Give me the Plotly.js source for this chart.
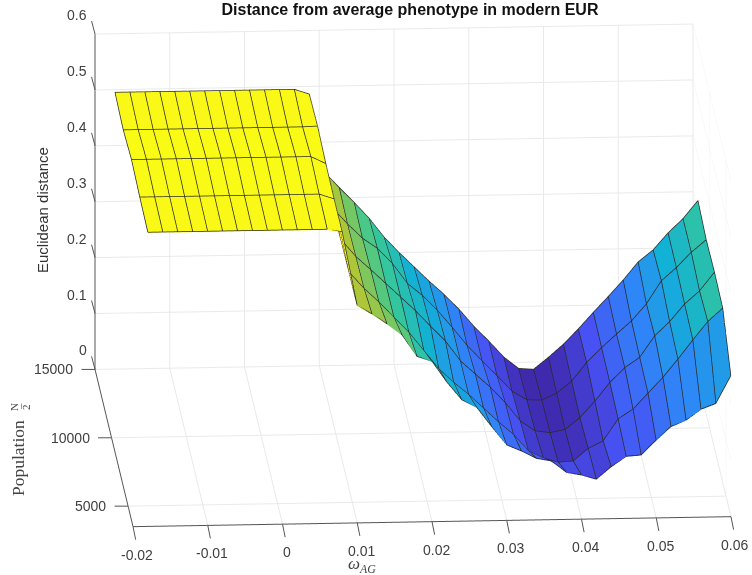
<!DOCTYPE html>
<html><head><meta charset="utf-8"><script src="https://cdn.plot.ly/plotly-3.0.1.min.js"></script>
<style>html,body{margin:0;padding:0;background:#fff}#p{width:752px;height:575px}</style></head>
<body><div id="p"></div>
<script>
const omega=[-0.018,-0.016,-0.014,-0.012,-0.01,-0.008,-0.006,-0.004,-0.002,0,0.002,0.004,0.006,0.008,0.01,0.012,0.014,0.016,0.018,0.02,0.022,0.024,0.026,0.028,0.03,0.032,0.034,0.036,0.038,0.04,0.042,0.044,0.046,0.048,0.05,0.052,0.054,0.056,0.058,0.06];
const population=[3500,6000,8500,11000,13500];
const distAt3500=[.525,.525,.525,.525,.525,.525,.525,.525,.525,.525,.525,.525,.525,.520,.388,.372,.354,.334,.295,.286,.248,.216,.202,.167,.134,.1225,.109,.104,.083,.078,.070,.092,.110,.112,.138,.162,.173,.192,.202,.251];
const distAt6000=[.528,.528,.528,.528,.528,.528,.528,.528,.528,.528,.528,.528,.528,.519,.3875,.358,.333,.3055,.278,.245,.212,.187,.165,.140,.115,.092,.062,.049,.041,.043,.065,.078,.117,.134,.162,.190,.222,.256,.2885,.312];
const distAt8500=[.534,.534,.534,.534,.534,.534,.534,.534,.534,.534,.534,.534,.534,.521,.385,.354,.330,.305,.280,.255,.227,.200,.164,.140,.116,.088,.055,.0365,.033,.038,.059,.088,.121,.147,.165,.203,.228,.259,.282,.315];
const distAt11000=[.526,.526,.526,.526,.526,.526,.526,.526,.526,.526,.526,.526,.526,.527,.380,.351,.325,.3065,.279,.243,.221,.194,.163,.130,.102,.075,.047,.031,.030,.042,.063,.096,.122,.146,.169,.199,.240,.263,.290,.312];
const distAt13500=[.532,.532,.532,.532,.532,.532,.532,.532,.532,.532,.532,.532,.532,.523,.383,.355,.328,.299,.265,.237,.211,.185,.161,.134,.103,.076,.047,.026,.024,.045,.068,.095,.124,.152,.181,.213,.234,.264,.289,.321];
const xTicks=[-0.02,-0.01,0,0.01,0.02,0.03,0.04,0.05,0.06];
const yTicks=[5000,10000,15000];
const zTicks=[0,0.1,0.2,0.3,0.4,0.5,0.6];
const parula=[[0,'rgb(62,38,168)'],[1/7,'rgb(72,82,244)'],[2/7,'rgb(46,135,247)'],[3/7,'rgb(18,177,214)'],[4/7,'rgb(55,200,151)'],[5/7,'rgb(171,199,57)'],[6/7,'rgb(254,195,56)'],[1,'rgb(249,251,21)']];

const Z=[distAt3500,distAt6000,distAt8500,distAt11000,distAt13500];
const eps=1e-7;
const fx=[],cols=[];
omega.forEach((v,i)=>{ if(i>0){fx.push(v-eps);cols.push(i);} if(i<omega.length-1){fx.push(v);cols.push(i);} });
const fy=[],rows=[];
population.forEach((v,j)=>{ if(j>0){fy.push(v-0.01);rows.push(j);} if(j<population.length-1){fy.push(v);rows.push(j);} });
const fz=rows.map(j=>cols.map(i=>Z[j][i]));
const fc=rows.map((j,b)=>cols.map((i,a)=>Z[Math.floor(b/2)][Math.floor(a/2)]));

// Mesh lines, nudged a hair toward the viewer so that they sit on top of the facets.
const lx=[],ly=[],lz=[];
const put=(i,j)=>{lx.push(omega[i]-2e-5);ly.push(Math.max(population[j]-50,3500));lz.push(Z[j][i]+0.0013);};
const gap=()=>{lx.push(null);ly.push(null);lz.push(null);};
population.forEach((_,j)=>{omega.forEach((_,i)=>put(i,j));gap();});
omega.forEach((_,i)=>{population.forEach((_,j)=>put(i,j));gap();});

const axBase={showbackground:false,showspikes:false,zeroline:false,showgrid:true,gridcolor:'#e9e9e9',gridwidth:2,
  showline:true,linecolor:'#555',linewidth:2,ticks:'',showticklabels:false,tickmode:'array',title:{text:''}};
const tickFont={family:'Liberation Sans, Arial, sans-serif',size:14,color:'#404040'};
const sa=[];
const mark=(p,ax,ay)=>sa.push(Object.assign({text:' ',showarrow:true,arrowhead:0,arrowwidth:1,arrowcolor:'#555',standoff:0,ax:ax,ay:ay,font:{size:1}},p));
xTicks.forEach(v=>{sa.push({x:v,y:3500,z:0,text:String(v),showarrow:false,font:tickFont,xshift:4,yshift:-28});mark({x:v,y:3500,z:0},3,15);});
yTicks.forEach(v=>{sa.push({x:-0.02,y:v,z:0,text:String(v),showarrow:false,font:tickFont,xanchor:'right',xshift:-20});mark({x:-0.02,y:v,z:0},-15,0);});
zTicks.forEach(v=>{sa.push({x:-0.02,y:15000,z:v,text:String(v),showarrow:false,font:tickFont,xanchor:'right',xshift:-6,yshift:19});mark({x:-0.02,y:15000,z:v},-4,-15);});

const cen=(a,b)=>({xanchor:'center',yanchor:'middle',xref:'paper',yref:'paper',x:a/752,y:1-b/575,showarrow:false});
const layout={width:752,height:575,margin:{l:0,r:0,t:0,b:0},paper_bgcolor:'#fff',showlegend:false,
  scene:{domain:{x:[0,1],y:[0,1]},aspectmode:'manual',aspectratio:{x:2.084,y:2.084,z:1.209},
    camera:{projection:{type:'orthographic'},center:{x:-0.129,y:0,z:-0.0415},eye:{x:-0.3126,y:-2.889,z:0.7475},up:{x:0,y:0,z:1}},
    xaxis:Object.assign({},axBase,{range:[-0.02,0.06],tickvals:xTicks}),
    yaxis:Object.assign({},axBase,{range:[3500,15000],tickvals:yTicks}),
    zaxis:Object.assign({},axBase,{range:[0,0.6],tickvals:zTicks}),
    annotations:sa},
  title:{text:'<b>Distance from average phenotype in modern EUR</b>',font:{family:'Liberation Sans, Arial, sans-serif',size:16,color:'#111'},x:410/752,xanchor:'center',y:1-9/575,yanchor:'middle'},
  annotations:[
    Object.assign(cen(42,210),{text:'Euclidean distance',textangle:-90,font:{family:'Liberation Sans, Arial, sans-serif',size:15,color:'#333'}}),
    Object.assign(cen(18,458),{text:'Population',textangle:-90,font:{family:'Liberation Serif, serif',size:17.5,color:'#444'}}),
    Object.assign(cen(14,407),{text:'N',textangle:-90,font:{family:'Liberation Serif, serif',size:11,color:'#444'}}),
    Object.assign(cen(20,407),{text:'–',textangle:-90,font:{family:'Liberation Serif, serif',size:11,color:'#444'}}),
    Object.assign(cen(26,407),{text:'2',textangle:-90,font:{family:'Liberation Serif, serif',size:11,color:'#444'}}),
    Object.assign(cen(362,565),{text:'<i>ω<sub>AG</sub></i>',font:{family:'Liberation Serif, serif',size:17,color:'#444'}})
  ]};
const trace={type:'surface',x:fx,y:fy,z:fz,surfacecolor:fc,colorscale:parula,cmin:0.024,cmax:0.53,showscale:false,hoverinfo:'skip',
  lighting:{ambient:1,diffuse:0,specular:0,fresnel:0,roughness:1},
  contours:{x:{show:false,highlight:false},y:{show:false,highlight:false},z:{show:false,highlight:false}}};
const mesh={type:'scatter3d',mode:'lines',x:lx,y:ly,z:lz,line:{color:'#2a2a2a',width:1.5},connectgaps:false,hoverinfo:'skip',showlegend:false};
Plotly.newPlot('p',[trace,mesh],layout,{displayModeBar:false,responsive:false});
</script></body></html>
